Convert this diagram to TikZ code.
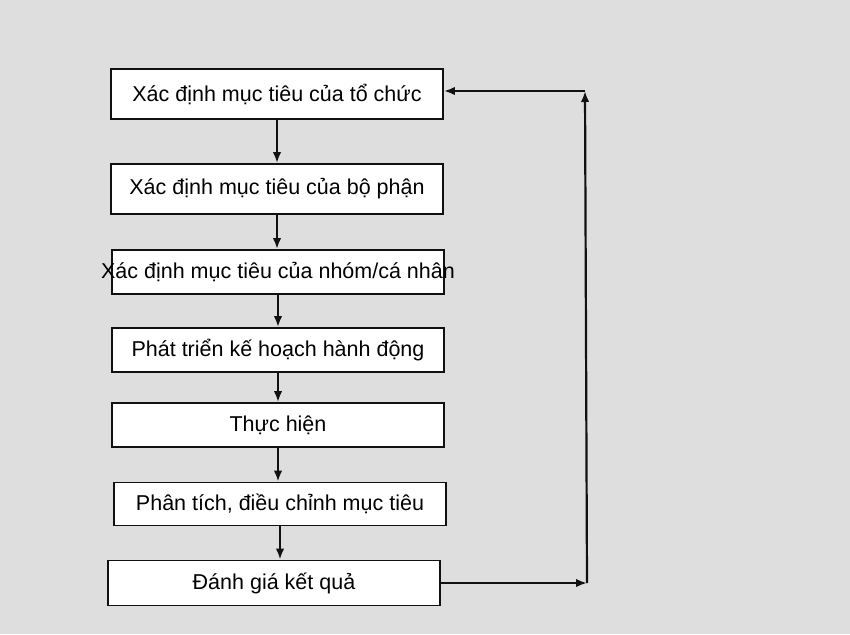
\documentclass[tikz,border=0pt]{standalone}
\usepackage{fontspec}
\setmainfont{Liberation Sans}
\usetikzlibrary{arrows.meta,positioning}
\usepackage{xcolor}
\definecolor{scanGray}{HTML}{DEDEDE}
\definecolor{inkBlack}{HTML}{111111}

\begin{document}
\begin{tikzpicture}[x=1pt,y=-1pt,>={Latex[length=11pt,width=8.5pt]}]
\tikzstyle{stepbox}=[draw=inkBlack,fill=white,line width=1.8pt,minimum width=332pt,inner sep=0pt,align=center,font=\fontsize{21.5}{24}\selectfont]
\tikzstyle{flow}=[->,draw=inkBlack,line width=2.2pt]
\fill[scanGray] (0,0) rectangle (850,634);
\useasboundingbox (0,0) rectangle (850,634);
\node[stepbox,minimum height=50pt] (org) at (277,94) {Xác định mục tiêu của tổ chức};
\node[stepbox,minimum height=50pt] (dept) at (277,189) {Xác định mục tiêu của bộ phận};
\node[stepbox,minimum height=44pt] (team) at (278,272) {\makebox[0pt][c]{Xác định mục tiêu của nhóm/cá nhân}};
\node[stepbox,minimum height=44pt] (plan) at (278,350) {Phát triển kế hoạch hành động};
\node[stepbox,minimum height=44pt] (exec) at (278,425) {Thực hiện};
\node[stepbox,minimum height=43pt] (adjust) at (280,504) {Phân tích, điều chỉnh mục tiêu};
\node[stepbox,minimum height=45pt] (result) at (274,583) {Đánh giá kết quả};
\coordinate (loopB) at (587,583);
\coordinate (loopT) at (585,91);
\foreach \a/\b in {org/dept,dept/team,team/plan,plan/exec,exec/adjust,adjust/result}{\draw[flow] (\a.south) -- (\a.south |- \b.north);}
\draw[flow] (result) -- (loopB);
\draw[flow] (loopB) -- (loopT);
\draw[flow] (loopT) -- (org.east |- loopT);
\end{tikzpicture}
\end{document}
